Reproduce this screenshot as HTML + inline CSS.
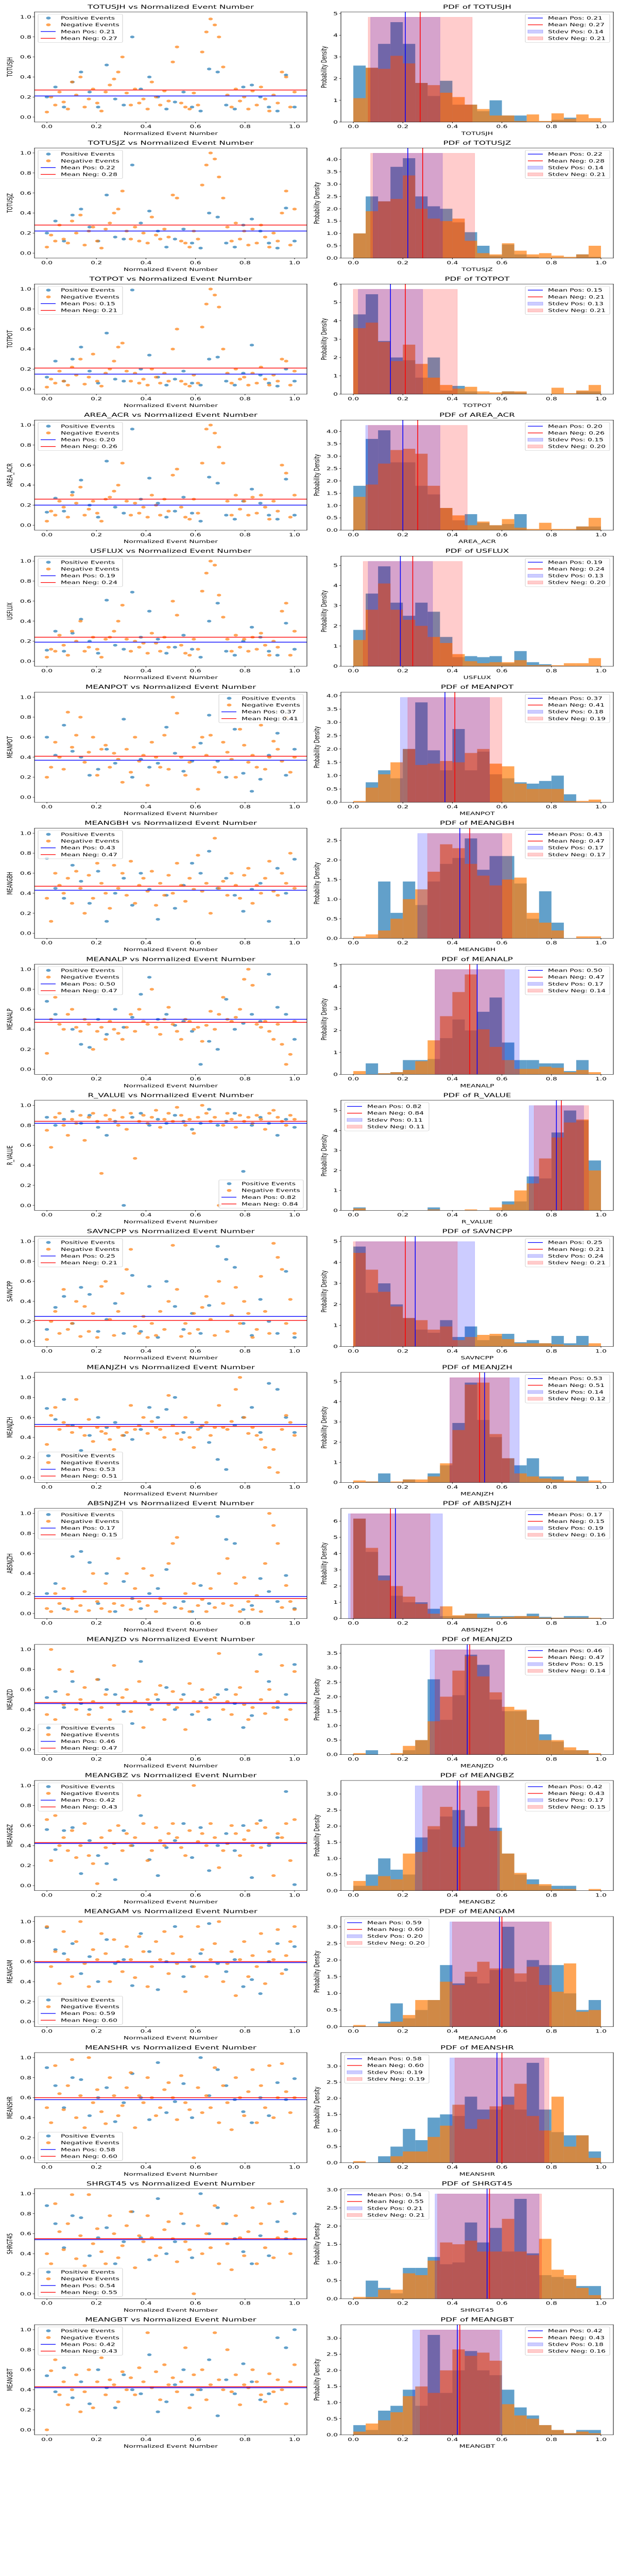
<!DOCTYPE html>
<html><head><meta charset="utf-8"><title>Feature distributions</title>
<style>
html,body{margin:0;padding:0;background:#fff;width:100vw;height:100vh;overflow:hidden;}
svg{display:block;width:100vw;height:100vh;font-family:"DejaVu Sans","Liberation Sans",sans-serif;}
</style></head>
<body>
<svg id="fig" viewBox="0 0 1200 8000" preserveAspectRatio="none" xmlns="http://www.w3.org/2000/svg"></svg>
<script>
// ---- data (scatter values and histogram densities) ----
const features=["TOTUSJH","TOTUSJZ","TOTPOT","AREA_ACR","USFLUX","MEANPOT","MEANGBH","MEANALP","R_VALUE","SAVNCPP","MEANJZH","ABSNJZH","MEANJZD","MEANGBZ","MEANGAM","MEANSHR","SHRGT45","MEANGBT"];
const meanPos=[0.21,0.22,0.15,0.20,0.19,0.37,0.43,0.50,0.82,0.25,0.53,0.17,0.46,0.42,0.59,0.58,0.54,0.42];
const meanNeg=[0.27,0.28,0.21,0.26,0.24,0.41,0.47,0.47,0.84,0.21,0.51,0.15,0.47,0.43,0.60,0.60,0.55,0.43];
const stdPos=[0.14,0.14,0.13,0.15,0.13,0.18,0.17,0.17,0.11,0.24,0.14,0.19,0.15,0.17,0.20,0.19,0.21,0.18];
const stdNeg=[0.21,0.21,0.21,0.20,0.20,0.19,0.17,0.14,0.11,0.21,0.12,0.16,0.14,0.15,0.20,0.19,0.21,0.16];
// histogram densities, 20 bins of width 0.05 over [0,1]
const histPos=[
[2.6,2.5,3.6,4.6,3.6,1.8,1.2,1.9,0.8,0.8,0.5,1.0,0.3,0.3,0,0,0.1,0.2,0,0],
[1.0,2.5,2.3,3.7,4.05,2.5,2.1,2.0,1.45,1.05,0.5,0.1,0.55,0.15,0.05,0,0,0,0.15,0.05],
[4.35,5.45,2.9,2.0,1.85,0.9,2.0,0.2,0.45,0.15,0,0,0.15,0.1,0,0,0,0,0.15,0.15],
[1.8,3.7,4.05,2.75,2.75,1.8,1.45,0.9,0.4,0.65,0.3,0.2,0.25,0.65,0,0,0,0,0.15,0.15],
[1.8,3.6,4.95,3.15,2.5,3.15,2.7,1.45,0.45,0.5,0.45,0.5,0.15,0.75,0.2,0.1,0,0,0,0],
[0,0.75,1.2,0.9,2.0,3.75,1.95,1.2,2.75,1.2,1.9,1.05,0.9,0.75,0.7,0.8,1.0,0.3,0,0],
[0,0,1.45,0.65,1.45,0.85,1.45,1.9,2.05,2.55,1.75,2.1,2.1,1.4,0.5,1.2,0.4,0,0,0],
[0,0.5,0.05,0.1,0.65,0.65,0.7,1.65,2.5,2.0,2.85,3.5,1.45,0.65,0.65,0.5,0.5,0.15,0.65,0],
[0.15,0,0,0,0,0,0.15,0,0,0,0,0,0.45,0.45,1.7,1.6,3.9,5.0,4.5,2.5],
[4.75,2.55,3.0,2.0,1.35,0.8,0.65,1.25,0.45,0.95,0.3,0.5,0.6,0.2,0.3,0.15,0.5,0.15,0.5,0],
[0,0.05,0.45,0,0.15,0,0.45,0.85,2.95,4.95,3.1,2.25,1.2,0.85,1.2,0.3,0.3,0.05,0.3,0],
[6.15,4.1,2.65,1.4,1.0,1.0,0.6,0.15,0.15,0.3,0.3,0.15,0.15,0.15,0.3,0.1,0.05,0.15,0.15,0],
[0,0.15,0,0,0.15,0.5,2.6,1.2,2.05,3.45,3.1,1.9,1.5,1.5,1.2,0.7,0.45,0.15,0.15,0],
[0.15,0.5,1.0,0.65,0.5,1.65,1.9,2.3,2.5,2.0,2.6,1.95,1.15,0.5,0.35,0.15,0.15,0.15,0,0],
[0,0,0.15,0.7,0.25,0.5,0.8,1.85,1.3,1.5,1.3,1.7,3.0,1.35,2.0,1.85,1.85,1.0,0.5,0.8],
[0,0,0.2,0.5,1.05,0.7,1.4,1.5,1.45,2.05,1.65,1.65,2.05,1.65,3.1,1.65,0.95,0.85,0.85,0.35],
[0,0.5,0.3,0.15,0.85,0.85,1.15,0.95,1.0,2.1,1.55,1.95,1.3,2.75,1.25,0.65,0.6,0.55,0.35,0.35],
[0.3,0.15,0.75,0.9,1.4,0.9,3.1,1.3,2.0,2.6,2.0,1.85,1.4,0.85,0.6,0.3,0.15,0.05,0.15,0.15]];
const histNeg=[
[1.1,2.5,2.45,3.05,2.7,1.8,1.7,1.35,1.15,0.8,0.6,0.3,0.3,0.05,0.35,0.05,0.4,0.15,0.35,0.18],
[1.0,1.9,2.3,2.4,3.35,2.0,1.6,1.5,1.6,0.7,0.2,0.15,0.6,0.3,0.15,0.2,0.1,0.05,0.15,0.5],
[3.6,3.9,2.85,1.8,2.7,1.65,0.9,0.5,0.3,0.4,0.15,0.1,0.15,0.15,0,0,0.35,0.05,0.2,0.5],
[1.35,1.85,2.7,3.25,3.3,3.1,1.8,0.9,0.6,0.2,0.35,0.2,0.45,0.1,0.05,0.3,0.05,0.05,0.15,0.5],
[1.3,2.8,4.1,2.8,2.3,2.0,1.45,1.15,0.6,0.25,0.15,0.2,0.2,0.3,0.05,0.05,0.05,0.15,0.15,0.4],
[0.05,0.55,1.05,1.5,2.0,1.4,1.45,1.55,1.5,1.85,2.0,1.45,1.35,0.7,0.5,0.5,0.5,0.05,0.05,0.1],
[0.05,0.1,0.2,0.5,1.0,1.25,1.7,2.4,2.3,1.9,1.6,1.35,1.5,1.55,0.65,0.4,0.2,0,0.05,0.05],
[0.15,0,0.05,0.1,0.2,0.6,1.55,2.65,3.75,4.55,2.05,1.25,0.65,0.25,0.25,0.35,0.3,0.1,0.2,0.1],
[0.1,0,0,0,0,0,0.05,0,0,0.05,0,0.15,0.3,1.0,1.35,2.6,3.65,4.4,4.55,2.0],
[4.45,3.65,2.6,1.9,1.35,1.25,0.8,0.95,0.3,0.45,0.55,0.6,0.35,0.15,0.15,0.15,0.1,0.05,0.05,0.15],
[0.1,0.05,0,0.05,0.15,0.15,0.3,0.95,2.6,4.85,4.95,2.4,1.2,0.45,0.3,0.2,0.15,0.1,0.05,0.1],
[6.15,4.35,2.35,2.0,1.35,0.9,0.3,0.75,0.2,0.3,0.05,0.05,0.1,0.15,0.15,0.05,0.05,0.05,0.05,0.05],
[0.05,0,0,0.05,0.3,0.5,1.15,2.0,2.9,3.4,2.7,2.15,1.65,1.55,1.2,0.5,0.5,0.25,0.15,0.05],
[0.3,0.15,0.45,0.35,1.15,1.2,2.0,2.6,1.35,2.0,3.1,1.85,1.15,0.55,0.2,0.2,0.05,0.05,0,0.05],
[0.05,0,0.1,0.15,0.35,0.8,0.8,1.35,1.25,1.65,1.95,1.75,1.75,1.6,1.8,1.25,1.05,1.9,0.45,0.5],
[0.05,0,0,0.2,0.35,0.35,0.8,1.15,1.8,1.05,1.35,1.75,1.8,2.45,1.45,1.0,2.05,0.5,0.85,0.15],
[0.05,0.05,0.25,0.25,0.7,0.65,1.05,1.55,1.5,1.6,1.3,1.3,2.2,1.3,1.2,1.65,0.8,0.65,0.3,0.1],
[0.1,0.35,0.45,0.7,1.2,1.5,1.3,2.0,2.65,2.45,2.55,2.3,0.95,0.6,0.5,0.3,0.15,0.05,0.1,0.05]];
// scatter y-values in hundredths; x = normalized index within each series
const scatterNeg=[
[5,20,12,25,15,8,35,22,40,10,18,28,14,6,25,32,38,45,60,24,12,28,14,18,8,35,20,12,26,16,55,70,14,10,8,24,12,65,85,98,92,80,50,22,10,28,16,20,8,26,12,30,18,6,22,14,45,40,10,25],
[6,18,12,28,14,10,32,20,38,8,22,26,12,5,24,30,40,44,62,22,14,26,12,20,10,36,18,14,24,16,58,55,12,10,6,22,14,68,88,100,94,76,55,26,12,30,14,22,8,24,10,28,16,6,20,12,40,62,8,44],
[2,10,6,18,8,4,22,14,30,5,12,35,8,3,16,20,28,42,46,18,8,16,6,10,4,20,12,6,16,8,40,60,8,5,3,14,6,62,85,100,94,82,40,16,6,20,10,12,4,16,6,22,10,4,14,8,30,28,4,18],
[4,14,10,24,18,8,30,22,38,10,16,24,12,4,26,28,34,40,62,24,10,22,12,18,8,30,20,10,26,14,50,56,18,8,6,26,12,62,96,100,92,78,62,24,10,30,16,24,10,28,12,30,18,6,24,14,60,52,8,30],
[4,12,10,26,16,6,30,20,40,10,14,24,12,4,22,24,30,40,56,22,10,20,14,18,8,28,18,10,24,14,60,46,16,8,6,22,12,70,88,100,96,66,44,22,10,26,14,22,10,24,12,28,16,6,20,14,50,58,6,30],
[20,30,55,40,28,85,50,62,80,35,45,60,22,48,52,30,44,38,15,48,25,60,36,42,12,55,40,30,62,28,100,84,40,22,35,50,8,60,42,62,30,25,55,45,38,20,68,52,35,42,30,72,28,40,56,48,36,80,25,40],
[35,12,60,48,40,55,30,62,45,20,58,35,70,50,40,25,68,45,60,38,72,30,48,55,42,62,28,50,38,58,40,70,48,32,55,44,78,42,50,20,95,45,52,38,60,48,35,58,65,30,48,40,55,72,42,38,60,50,80,45],
[16,50,72,45,40,55,60,42,38,50,45,20,38,42,30,48,40,36,30,42,55,38,60,48,45,80,42,35,50,62,45,38,30,50,48,40,42,28,44,58,40,55,72,50,48,52,60,90,100,84,45,42,48,38,30,45,25,5,15,48],
[75,58,88,92,80,70,86,82,90,65,88,92,84,32,90,86,95,80,88,76,92,47,84,90,82,88,95,78,86,92,84,98,90,80,86,72,88,100,92,84,88,0,80,92,86,78,90,84,88,82,90,86,76,92,95,88,84,80,90,86],
[2,20,30,8,52,12,18,40,5,35,10,28,4,55,60,22,6,30,48,72,92,15,8,25,4,18,6,30,12,40,96,52,5,18,8,28,12,34,45,22,6,60,38,10,26,54,18,40,28,4,12,65,30,8,98,84,72,18,42,8],
[33,62,70,48,55,52,45,78,50,42,58,36,50,46,44,38,28,50,42,45,72,48,52,60,44,56,50,48,40,82,52,44,38,60,40,30,48,52,55,42,50,72,50,48,56,88,100,60,44,50,42,38,30,10,28,5,48,62,55,42],
[5,2,20,10,25,4,15,2,8,22,3,40,12,5,30,2,10,55,8,40,4,25,12,45,8,38,2,15,10,50,70,76,5,20,2,30,8,14,2,25,6,40,10,55,8,30,2,36,12,4,18,2,50,100,88,70,6,28,12,4],
[35,100,30,80,45,55,78,40,50,62,35,48,70,42,55,30,84,45,52,60,38,48,68,22,50,40,55,64,30,45,58,42,50,20,66,48,38,60,42,50,52,96,40,48,35,55,62,45,30,42,78,50,36,60,42,48,84,30,40,78],
[66,25,70,40,48,35,55,28,40,62,30,22,2,48,38,55,42,60,35,52,40,48,90,62,25,35,58,45,40,52,62,48,38,30,55,100,44,52,40,62,48,18,35,42,60,52,30,46,55,40,62,38,58,42,10,52,48,62,25,66],
[95,55,70,38,90,62,45,80,100,58,35,72,62,88,68,40,82,60,50,75,62,44,85,70,35,55,80,62,90,48,68,58,85,30,62,55,95,72,45,62,78,100,40,58,70,26,62,80,45,66,55,88,38,70,62,92,48,66,80,95],
[50,35,92,64,48,72,98,40,62,30,100,55,68,46,34,80,62,42,52,70,85,30,62,55,80,60,42,50,68,75,60,38,82,55,48,0,70,45,62,50,90,35,72,55,28,80,60,42,66,88,35,72,50,92,40,60,94,66,45,60],
[40,30,90,62,44,70,99,35,58,28,99,50,65,42,30,78,60,36,48,68,82,26,58,52,78,56,38,46,64,72,55,32,80,52,44,0,68,40,60,46,88,30,70,50,24,78,56,38,62,86,30,70,46,90,36,56,92,62,40,55],
[0,59,70,35,48,25,40,55,18,38,60,22,48,72,35,50,45,28,58,40,52,35,62,48,97,42,58,30,65,45,52,38,48,82,22,55,40,60,30,45,97,50,40,80,38,55,25,45,42,60,48,35,28,56,38,50,40,26,48,65]];
const scatterPos=[
[20,30,10,35,45,25,10,52,18,12,80,28,40,20,8,15,25,10,6,48,45,12,8,30,32,20,10,6,42,10],
[20,32,12,38,44,26,12,58,16,14,88,30,42,22,6,14,24,10,5,40,36,10,6,28,34,22,10,5,45,12],
[12,28,8,30,42,18,6,56,10,8,99,20,34,12,4,10,18,6,4,30,32,8,4,16,44,14,6,3,20,8],
[13,27,14,33,45,20,8,64,18,12,96,26,47,22,8,14,28,12,4,48,42,10,6,24,36,22,10,6,46,10],
[11,30,10,28,42,20,8,61,16,12,69,24,50,22,8,14,26,12,4,40,58,10,6,20,34,24,10,6,38,12],
[60,42,72,46,40,22,28,48,34,78,20,38,30,34,70,44,26,36,54,82,36,20,68,24,6,18,42,64,22,48],
[75,45,35,68,52,30,62,12,40,55,28,60,44,14,38,25,48,70,60,82,45,55,38,22,44,50,12,65,40,74],
[68,55,85,40,25,22,50,35,60,42,52,75,92,50,55,44,48,38,5,28,20,70,40,46,55,48,95,62,55,30],
[88,80,86,94,82,90,78,70,84,0,88,92,80,86,82,90,84,76,82,96,80,84,92,34,80,88,82,70,86,78],
[12,34,45,18,54,47,10,22,38,8,66,10,55,4,60,35,12,28,8,36,95,82,74,18,6,42,20,8,70,4],
[69,58,78,52,27,42,60,50,55,42,38,48,70,60,68,80,45,55,50,35,18,8,52,60,70,45,94,88,60,45],
[20,30,5,57,62,51,10,40,2,32,15,5,20,25,44,6,12,2,28,10,97,74,70,4,8,35,22,12,38,5],
[52,58,42,68,46,40,70,60,55,38,26,88,45,50,62,40,55,35,48,30,55,60,46,22,34,95,68,42,55,85],
[56,36,55,58,12,45,30,22,6,55,40,70,26,10,38,45,62,28,58,15,40,52,35,60,8,65,40,48,94,1],
[94,72,68,78,48,65,40,82,58,62,36,88,70,32,60,95,45,55,68,98,58,50,62,35,42,28,60,78,52,75],
[90,72,50,80,78,42,60,70,36,55,84,60,38,95,45,56,74,40,100,62,88,72,58,46,35,60,42,75,58,79],
[88,70,46,78,76,38,56,66,30,52,82,56,34,95,40,52,70,36,100,60,86,70,55,42,30,58,38,72,55,80],
[54,38,62,32,48,26,60,42,22,55,40,36,75,18,28,45,60,35,40,70,14,50,36,66,48,30,36,92,82,100]];
const xTicks=[0,0.2,0.4,0.6,0.8,1.0];
const yTicksScatter=[0,0.2,0.4,0.6,0.8,1.0];
const legendLeftLoc=["ul","ul","ul","ul","ul","ur","ul","ul","lr","ul","ll","ul","ll","ul","ll","ll","ll","ul"];
const legendRightLoc=["ur","ur","ur","ur","ur","ur","ur","ur","ul","ur","ur","ur","ur","ur","ul","ul","ul","ur"];

// ---- rendering ----
const NS="http://www.w3.org/2000/svg";
const svg=document.getElementById("fig");
function el(tag,attrs,parent,text){const e=document.createElementNS(NS,tag);for(const k in attrs)e.setAttribute(k,attrs[k]);if(text!==undefined)e.textContent=text;(parent||svg).appendChild(e);return e;}
const PITCH=422.5,TOP0=37,H=342,W=529,LX=67,RX=662;
const BLUE="#1f77b4",ORANGE="#ff7f0e";

function xScale(L){return v=>L+(v+0.05)/1.1*W;}

function legend(g,loc,axL,top,items){
  const w=164,h=88;
  let x= loc[1]==="l"? axL+7 : axL+W-7-w;
  let y= loc[0]==="u"? top+7 : top+H-7-h;
  const lg=el("g",{},g);
  
  
  el("rect",{x:x,y:y,width:w,height:h,rx:3,fill:"#fff","fill-opacity":0.8,stroke:"#cccccc","stroke-width":1},lg);
  items.forEach((it,i)=>{
    const cy=y+12+i*21;
    const ent=el("g",{},lg);
    
    
    if(it.type==="dot") el("ellipse",{cx:x+20,cy:cy,rx:4.5,ry:4.5,fill:it.color,"fill-opacity":0.7},ent);
    else if(it.type==="line") el("line",{x1:x+5,x2:x+34,y1:cy,y2:cy,stroke:it.color,"stroke-width":2},ent);
    else el("rect",{x:x+5,y:cy-5,width:29,height:10,fill:it.color,"fill-opacity":0.2,stroke:it.color,"stroke-opacity":0.25},ent);
    el("text",{x:x+44,y:cy+5,"font-size":"13.9px",fill:"#000"},ent,it.label);
  });
}

function frame(g,L,top){
  const f=el("rect",{x:L,y:top,width:W,height:H,fill:"none",stroke:"#000","stroke-width":1},g);
  
  
}

features.forEach((name,r)=>{
  const top=TOP0+r*PITCH, bot=top+H;
  // ---------- scatter ----------
  const gL=el("g",{});
  
  
  const sx=xScale(LX);
  const sy=v=>bot-(v+0.05)/1.1*H;
  const t1=el("text",{x:LX+W/2,y:top-10,"text-anchor":"middle","font-size":"16.7px"},gL,name+" vs Normalized Event Number");
  
  
  const pts=el("g",{},gL);
  
  
  const pos=scatterPos[r], neg=scatterNeg[r];
  pos.forEach((v,i)=>{const c=el("circle",{cx:sx(i/(pos.length-1)),cy:sy(v/100),r:4.2,fill:BLUE,"fill-opacity":0.7},pts);
    
    });
  neg.forEach((v,i)=>{const c=el("circle",{cx:sx(i/(neg.length-1)),cy:sy(v/100),r:4.2,fill:ORANGE,"fill-opacity":0.7},pts);
    
    });
  const mp=el("line",{x1:LX,x2:LX+W,y1:sy(meanPos[r]),y2:sy(meanPos[r]),stroke:"#0000ff","stroke-width":2.2},gL);
  
  
  const mn=el("line",{x1:LX,x2:LX+W,y1:sy(meanNeg[r]),y2:sy(meanNeg[r]),stroke:"#ff0000","stroke-width":2.2},gL);
  
  
  frame(gL,LX,top);
  xTicks.forEach(t=>{const x=sx(t);el("line",{x1:x,x2:x,y1:bot,y2:bot+3.5,stroke:"#000"},gL);
    const tl=el("text",{x:x,y:bot+19,"text-anchor":"middle","font-size":"13.9px"},gL,t.toFixed(1));
    
    });
  yTicksScatter.forEach(t=>{const y=sy(t);el("line",{x1:LX-3.5,x2:LX,y1:y,y2:y,stroke:"#000"},gL);
    const tl=el("text",{x:LX-6,y:y+5,"text-anchor":"end","font-size":"13.9px"},gL,t.toFixed(1));
    
    });
  const xl=el("text",{x:LX+W/2,y:bot+40,"text-anchor":"middle","font-size":"13.9px"},gL,"Normalized Event Number");
  
  
  const yl=el("text",{x:0,y:0,transform:`translate(24,${top+H/2}) rotate(-90)`,"text-anchor":"middle","font-size":"13.9px"},gL,name);
  
  
  legend(gL,legendLeftLoc[r],LX,top,[
    {type:"dot",color:BLUE,label:"Positive Events"},
    {type:"dot",color:ORANGE,label:"Negative Events"},
    {type:"line",color:"#0000ff",label:"Mean Pos: "+meanPos[r].toFixed(2)},
    {type:"line",color:"#ff0000",label:"Mean Neg: "+meanNeg[r].toFixed(2)}]);

  // ---------- histogram ----------
  const gR=el("g",{});
  
  
  const hx=xScale(RX);
  const hp=histPos[r], hn=histNeg[r];
  const mx=Math.max(...hp,...hn);
  const rectTop=mx*1.05, ymax=rectTop*1.05;
  const hy=v=>bot-v/ymax*H;
  const t2=el("text",{x:RX+W/2,y:top-10,"text-anchor":"middle","font-size":"16.7px"},gR,"PDF of "+name);
  
  
  const bw=1/hp.length;
  const drawBars=(arr,color,nm)=>{arr.forEach((v,i)=>{if(v<=0)return;
    const b=el("rect",{x:hx(i*bw),y:hy(v),width:hx((i+1)*bw)-hx(i*bw),height:bot-hy(v),fill:color,"fill-opacity":0.7},gR);
    
    });};
  drawBars(hp,BLUE,'pos-hist-bar');
  drawBars(hn,ORANGE,'neg-hist-bar');
  const sp=el("rect",{x:hx(meanPos[r]-stdPos[r]),y:hy(rectTop),width:hx(meanPos[r]+stdPos[r])-hx(meanPos[r]-stdPos[r]),height:bot-hy(rectTop),fill:"#0000ff","fill-opacity":0.2,stroke:"#0000ff","stroke-opacity":0.15},gR);
  
  
  const sn=el("rect",{x:hx(meanNeg[r]-stdNeg[r]),y:hy(rectTop),width:hx(meanNeg[r]+stdNeg[r])-hx(meanNeg[r]-stdNeg[r]),height:bot-hy(rectTop),fill:"#ff0000","fill-opacity":0.2,stroke:"#ff0000","stroke-opacity":0.15},gR);
  
  
  const vp=el("line",{x1:hx(meanPos[r]),x2:hx(meanPos[r]),y1:top,y2:bot,stroke:"#0000ff","stroke-width":1.5},gR);
  
  
  const vn=el("line",{x1:hx(meanNeg[r]),x2:hx(meanNeg[r]),y1:top,y2:bot,stroke:"#ff0000","stroke-width":1.5},gR);
  
  
  frame(gR,RX,top);
  xTicks.forEach(t=>{const x=hx(t);el("line",{x1:x,x2:x,y1:bot,y2:bot+3.5,stroke:"#000"},gR);
    const tl=el("text",{x:x,y:bot+19,"text-anchor":"middle","font-size":"13.9px"},gR,t.toFixed(1));
    
    });
  const step= ymax<4.5?0.5:1;
  for(let t=0;t<=ymax+1e-9;t+=step){const y=hy(t);el("line",{x1:RX-3.5,x2:RX,y1:y,y2:y,stroke:"#000"},gR);
    const tl=el("text",{x:RX-6,y:y+5,"text-anchor":"end","font-size":"13.9px"},gR,step<1?t.toFixed(1):String(Math.round(t)));
    
    }
  const xl2=el("text",{x:RX+W/2,y:bot+40,"text-anchor":"middle","font-size":"13.9px"},gR,name);
  
  
  const yl2=el("text",{x:0,y:0,transform:`translate(${step<1?620:634},${top+H/2}) rotate(-90)`,"text-anchor":"middle","font-size":"13.9px"},gR,"Probability Density");
  
  
  legend(gR,legendRightLoc[r],RX,top,[
    {type:"line",color:"#0000ff",label:"Mean Pos: "+meanPos[r].toFixed(2)},
    {type:"line",color:"#ff0000",label:"Mean Neg: "+meanNeg[r].toFixed(2)},
    {type:"patch",color:"#0000ff",label:"Stdev Pos: "+stdPos[r].toFixed(2)},
    {type:"patch",color:"#ff0000",label:"Stdev Neg: "+stdNeg[r].toFixed(2)}]);
});
</script>
</body></html>
